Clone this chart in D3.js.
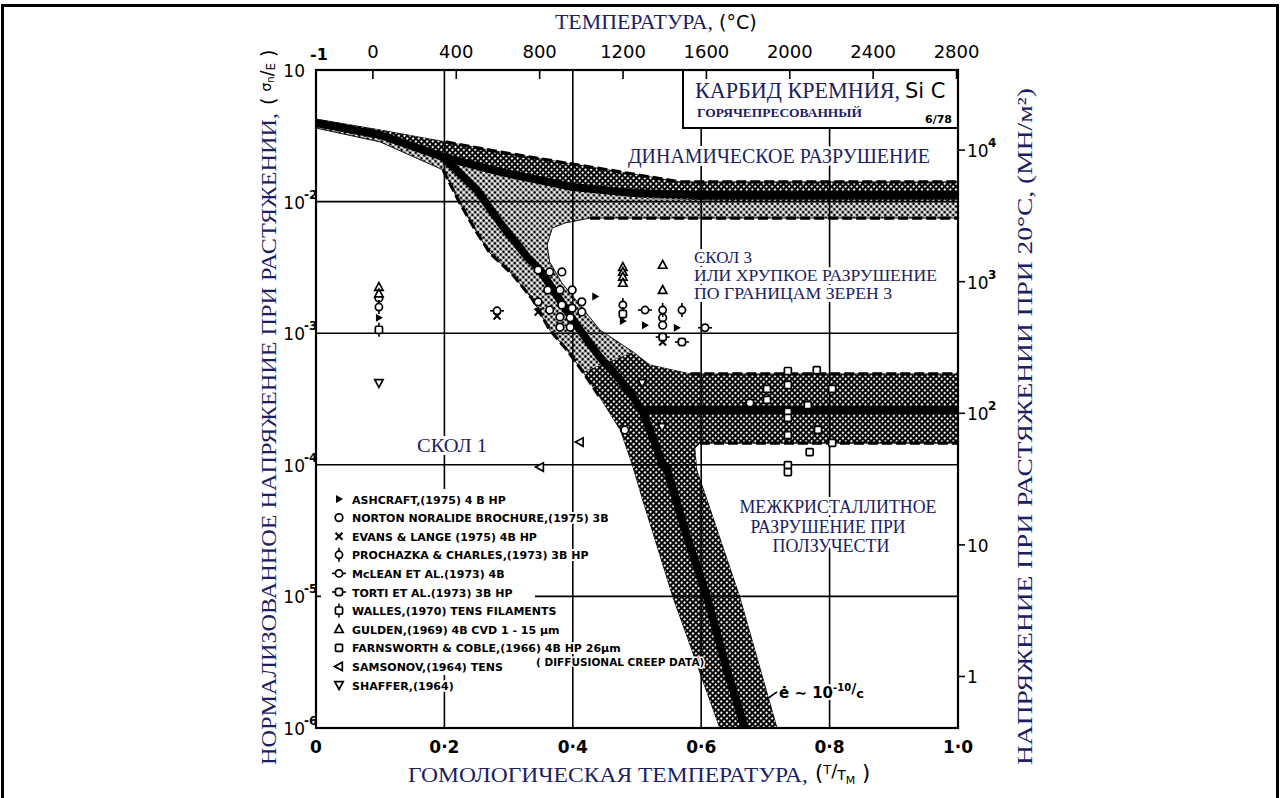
<!DOCTYPE html>
<html>
<head>
<meta charset="utf-8">
<script src="https://cdn.jsdelivr.net/npm/d3@7"></script>
<style>
    body{margin:0;background:#fff;}
    svg{display:block;}
    .ru{font-family:"Liberation Serif","DejaVu Serif",serif;fill:#1b2160;}
    .lt{font-family:"DejaVu Sans",sans-serif;fill:#000;}
    .halo{paint-order:stroke;stroke:#fff;stroke-linejoin:round;}
</style>
</head>
<body>
<div id="chart"></div>
<script>
// melting point (K) and modulus (MN/m2) used by the top and right axes
const meltK = 3080;
const modulusE = 4.06e5;

const homTicks = [0, 0.2, 0.4, 0.6, 0.8, 1.0];
const homLabels = ['0', '0·2', '0·4', '0·6', '0·8', '1·0'];
const tempTicks = [0, 400, 800, 1200, 1600, 2000, 2400, 2800];
const stressExp = [-1, -2, -3, -4, -5, -6];
const gridStress = [1e-2, 1e-3, 1e-4, 1e-5];
const mpaTicks = [1e4, 1e3, 1e2, 10, 1];
const mpaLabels = [['10', '4'], ['10', '3'], ['10', '2'], ['10', ''], ['1', '']];

// field boundaries, [T/TM, sigma_n/E]
const fieldOutline = [
    [0, 0.0424], [0.100, 0.0350], [0.202, 0.0284], [0.287, 0.0238], [0.380, 0.0200], [0.474, 0.0168],
    [0.567, 0.0141], [0.629, 0.0141], [1, 0.0141],
    [1, 0.00750], [0.754, 0.00750], [0.505, 0.00750], [0.427, 0.00750], [0.388, 0.00688], [0.368, 0.00630],
    [0.360, 0.00468], [0.364, 0.00348], [0.383, 0.00241], [0.411, 0.00164], [0.442, 0.00106], [0.494, 7.20e-4],
    [0.520, 5.73e-4], [0.583, 4.90e-4], [0.629, 4.90e-4], [1, 4.90e-4],
    [1, 1.46e-4], [0.754, 1.46e-4], [0.598, 1.46e-4], [0.590, 1.34e-4], [0.593, 9.13e-5], [0.609, 5.40e-5],
    [0.660, 9.89e-6], [0.718, 1e-6],
    [0.629, 1e-6], [0.556, 9.89e-6], [0.509, 5.40e-5], [0.492, 1.03e-4], [0.474, 1.84e-4], [0.442, 3.27e-4],
    [0.416, 5.07e-4], [0.391, 7.45e-4], [0.364, 0.00106], [0.338, 0.00179], [0.307, 0.00277], [0.271, 0.00407],
    [0.251, 0.00577], [0.224, 0.00976], [0.198, 0.0174], [0.100, 0.0284], [0, 0.0362]
];
const dynamicDark = [
    [0, 0.0424], [0.100, 0.0350], [0.202, 0.0284], [0.287, 0.0238], [0.380, 0.0200], [0.474, 0.0168],
    [0.567, 0.0141], [1, 0.0141], [1, 0.0101], [0.629, 0.0101], [0.505, 0.0107], [0.400, 0.0129],
    [0.287, 0.0159], [0.202, 0.0207], [0.100, 0.0304], [0, 0.0369]
];
const lowerDark = [
    [0.416, 5.07e-4], [0.442, 3.27e-4], [0.474, 1.84e-4], [0.492, 1.03e-4], [0.509, 5.40e-5], [0.556, 9.89e-6],
    [0.629, 1e-6], [0.718, 1e-6], [0.660, 9.89e-6], [0.609, 5.40e-5], [0.593, 9.13e-5], [0.590, 1.34e-4],
    [0.598, 1.46e-4], [1, 1.46e-4], [1, 4.90e-4], [0.583, 4.90e-4], [0.520, 5.73e-4], [0.494, 7.20e-4]
];
const coreDynamic = [[0, 0.0396], [0.100, 0.0321], [0.198, 0.0218], [0.287, 0.0168], [0.400, 0.0129], [0.494, 0.0116], [0.598, 0.0112], [1, 0.0112]];
const coreCleavage = [
    [0.198, 0.0218], [0.251, 0.0122], [0.287, 0.00688], [0.329, 0.00379], [0.349, 0.00302], [0.385, 0.00164],
    [0.411, 0.00106], [0.442, 6.59e-4], [0.474, 4.41e-4], [0.494, 3.27e-4], [0.509, 2.52e-4], [0.525, 1.60e-4],
    [0.539, 1.03e-4], [0.547, 9.13e-5], [0.578, 2.83e-5], [0.609, 9.89e-6], [0.640, 2.76e-6], [0.668, 1e-6]
];
const coreCreep = [[0.509, 2.61e-4], [1, 2.61e-4]];
const edgeTop = [[0.202, 0.0284], [0.287, 0.0238], [0.380, 0.0200], [0.474, 0.0168], [0.567, 0.0141], [1, 0.0141]];
const edgeDynBottom = [[0.427, 0.00750], [1, 0.00750]];
const edgeCleavLeft = [[0.198, 0.0174], [0.224, 0.00976], [0.251, 0.00577], [0.271, 0.00407], [0.307, 0.00277], [0.338, 0.00179], [0.364, 0.00106], [0.391, 7.45e-4], [0.416, 5.07e-4], [0.442, 3.27e-4]];
const edgeCreepTop = [[0.583, 4.90e-4], [1, 4.90e-4]];
const edgeCreepBottom = [[0.598, 1.46e-4], [1, 1.46e-4]];

// data points, [T/TM, sigma_n/E]
const ptsAshcraft = [[0.098, 0.00131], [0.435, 0.00190], [0.478, 0.00124], [0.5125, 0.00115], [0.562, 0.00110]];
const ptsNorton = [
    [0.098, 0.00185], [0.346, 0.00302], [0.364, 0.00292], [0.383, 0.00292], [0.361, 0.00213], [0.380, 0.00213],
    [0.399, 0.00213], [0.346, 0.00173], [0.364, 0.00150], [0.383, 0.00164], [0.399, 0.00155], [0.414, 0.00173],
    [0.380, 0.00133], [0.396, 0.00131], [0.414, 0.00145], [0.380, 0.00111], [0.396, 0.00111],
    [0.540, 0.00131], [0.540, 0.00115], [0.481, 1.84e-4]
];
const ptsEvans = [[0.282, 0.00135], [0.346, 0.00145], [0.540, 8.57e-4]];
const ptsProchazka = [[0.098, 0.00158], [0.478, 0.00164], [0.540, 0.00150], [0.570, 0.00150]];
const ptsMclean = [[0.282, 0.00148], [0.5125, 0.00150], [0.606, 0.00110]];
const ptsTorti = [[0.540, 9.35e-4], [0.570, 8.57e-4], [0.676, 2.95e-4]];
const ptsWalles = [[0.098, 0.00106], [0.478, 0.00140]];
const ptsGulden = [[0.098, 0.00224], [0.098, 0.00200], [0.478, 0.00318], [0.478, 0.00292], [0.478, 0.00268], [0.478, 0.00241], [0.540, 0.00330], [0.540, 0.00213]];
const ptsFarnsworth = [
    [0.735, 5.16e-4], [0.780, 5.25e-4], [0.7025, 3.77e-4], [0.735, 4.04e-4], [0.804, 3.77e-4], [0.7025, 3.11e-4],
    [0.735, 2.52e-4], [0.735, 2.27e-4], [0.766, 2.84e-4], [0.735, 1.68e-4], [0.782, 1.84e-4], [0.804, 1.47e-4],
    [0.769, 1.25e-4], [0.735, 9.95e-5], [0.735, 8.81e-5]
];
const ptsSamsonov = [[0.411, 1.49e-4], [0.349, 9.62e-5]];
const ptsShaffer = [[0.098, 4.19e-4], [0.508, 4.19e-4], [0.539, 1.94e-4]];

const legendText = [
    'ASHCRAFT,(1975) 4 B HP',
    'NORTON NORALIDE BROCHURE,(1975) 3B',
    'EVANS & LANGE (1975) 4B HP',
    'PROCHAZKA & CHARLES,(1973) 3B HP',
    'McLEAN ET AL.(1973) 4B',
    'TORTI ET AL.(1973) 3B HP',
    'WALLES,(1970) TENS FILAMENTS',
    'GULDEN,(1969) 4B CVD 1 - 15 µm',
    'FARNSWORTH & COBLE,(1966) 4B HP 26µm',
    'SAMSONOV,(1964) TENS',
    'SHAFFER,(1964)'
];
const legendSym = ['tr', 'o', 'x', 'phi', 'oh', 'sh', 'wl', 'tu', 'sq', 'tl', 'td'];

let x = d3.scaleLinear().domain([0, 1]).range([316, 958]);
let y = d3.scaleLog().domain([1e-6, 1e-1]).range([728, 70]);
let xt = d3.scaleLinear().domain([-273, meltK - 273]).range([316, 958]);
let yr = d3.scaleLog().domain([1e-6 * modulusE, 1e-1 * modulusE]).range([728, 70]);
let line = d3.line().x(d => x(d[0])).y(d => y(d[1]));

let svg = d3.select('#chart').append('svg').attr('width', 1284).attr('height', 798);
svg.append('rect').attr('width', 1284).attr('height', 798).attr('fill', '#fff');
svg.append('rect').attr('x', 2.5).attr('y', 5.5).attr('width', 1275).attr('height', 820)
    .attr('fill', 'none').attr('stroke', '#000').attr('stroke-width', 3);

let defs = svg.append('defs');
let pl = defs.append('pattern').attr('id', 'dotLight').attr('width', 4).attr('height', 4)
    .attr('patternUnits', 'userSpaceOnUse').attr('patternTransform', 'rotate(45)');
pl.append('rect').attr('width', 4).attr('height', 4).attr('fill', '#fff');
pl.append('circle').attr('cx', 2).attr('cy', 2).attr('r', 1.55).attr('fill', '#000');
let pd = defs.append('pattern').attr('id', 'dotDark').attr('width', 4).attr('height', 4)
    .attr('patternUnits', 'userSpaceOnUse').attr('patternTransform', 'rotate(45)');
pd.append('rect').attr('width', 4).attr('height', 4).attr('fill', '#000');
pd.append('circle').attr('cx', 2).attr('cy', 2).attr('r', 1.15).attr('fill', '#fff');
defs.append('clipPath').attr('id', 'plotClip').append('rect')
    .attr('x', 316).attr('y', 70).attr('width', 642).attr('height', 658);

// fields
let fg = svg.append('g').attr('clip-path', 'url(#plotClip)');
fg.append('path').attr('d', line(fieldOutline) + 'Z').attr('fill', 'url(#dotLight)')
    .attr('stroke', '#111').attr('stroke-width', 1);
fg.append('path').attr('d', line(dynamicDark) + 'Z').attr('fill', 'url(#dotDark)');
fg.append('path').attr('d', line(lowerDark) + 'Z').attr('fill', 'url(#dotDark)');
[coreDynamic, coreCleavage, coreCreep].forEach(c => {
    fg.append('path').attr('d', line(c)).attr('fill', 'none').attr('stroke', '#000')
        .attr('stroke-width', 8).attr('stroke-linejoin', 'round');
});
[edgeTop, edgeDynBottom, edgeCleavLeft, edgeCreepTop, edgeCreepBottom].forEach(c => {
    fg.append('path').attr('d', line(c)).attr('fill', 'none').attr('stroke', '#000')
        .attr('stroke-width', 3.2).attr('stroke-dasharray', '10 4');
});

// grid
let grid = svg.append('g').attr('stroke', '#000').attr('stroke-width', 1.6);
homTicks.slice(1, -1).forEach(v => {
    grid.append('line').attr('x1', x(v)).attr('x2', x(v)).attr('y1', 70).attr('y2', 728);
});
gridStress.forEach(v => {
    grid.append('line').attr('x1', 316).attr('x2', 958).attr('y1', y(v)).attr('y2', y(v));
});

// legend
svg.append('rect').attr('x', 321).attr('y', 489).attr('width', 214).attr('height', 186).attr('fill', '#fff');
let lg = svg.append('g');
legendText.forEach((t, i) => {
    let yy = 499 + i * 18.6;
    let m = lg.append('g').attr('transform', `translate(339,${yy})`);
    drawSym(m, legendSym[i]);
    lg.append('text').attr('class', 'lt halo').attr('x', 352).attr('y', yy + 4.5)
        .attr('font-size', 11).attr('font-weight', 'bold').attr('stroke-width', 4).text(t);
});
lg.append('text').attr('class', 'lt halo').attr('x', 536).attr('y', 666)
    .attr('font-size', 10.5).attr('font-weight', 'bold').attr('stroke-width', 3).text('( DIFFUSIONAL CREEP DATA)');

// data markers
let series = [
    [ptsAshcraft, 'tr'], [ptsNorton, 'o'], [ptsEvans, 'x'], [ptsProchazka, 'phi'], [ptsMclean, 'oh'],
    [ptsTorti, 'sh'], [ptsWalles, 'wl'], [ptsGulden, 'tu'], [ptsFarnsworth, 'sq'], [ptsSamsonov, 'tl'], [ptsShaffer, 'td']
];
let mg = svg.append('g');
series.forEach(s => {
    s[0].forEach(p => {
        drawSym(mg.append('g').attr('transform', `translate(${x(p[0])},${y(p[1])})`), s[1]);
    });
});

function drawSym(g, kind) {
    let outline = e => e.attr('fill', '#fff').attr('stroke', '#000').attr('stroke-width', 1.7);
    if (kind === 'tr') {
        g.append('path').attr('d', 'M-3,-4L4,0L-3,4Z').attr('fill', '#000');
    } else if (kind === 'o') {
        outline(g.append('circle').attr('r', 3.8));
    } else if (kind === 'x') {
        g.append('path').attr('d', 'M-3.5,-3.5L3.5,3.5M3.5,-3.5L-3.5,3.5').attr('stroke', '#000').attr('stroke-width', 2);
    } else if (kind === 'phi') {
        g.append('line').attr('y1', -7).attr('y2', 7).attr('stroke', '#000').attr('stroke-width', 1.6);
        outline(g.append('circle').attr('r', 3.6));
    } else if (kind === 'oh') {
        g.append('line').attr('x1', -7).attr('x2', 7).attr('stroke', '#000').attr('stroke-width', 1.6);
        outline(g.append('circle').attr('r', 3.6));
    } else if (kind === 'sh') {
        g.append('line').attr('x1', -7).attr('x2', 7).attr('stroke', '#000').attr('stroke-width', 1.6);
        outline(g.append('rect').attr('x', -3.6).attr('y', -3.6).attr('width', 7.2).attr('height', 7.2).attr('rx', 2.5));
    } else if (kind === 'wl') {
        g.append('line').attr('y1', -7).attr('y2', 7).attr('stroke', '#000').attr('stroke-width', 1.6);
        outline(g.append('rect').attr('x', -3.6).attr('y', -3.6).attr('width', 7.2).attr('height', 7.2).attr('rx', 1.5));
    } else if (kind === 'tu') {
        outline(g.append('path').attr('d', 'M0,-4.5L4.2,3.3L-4.2,3.3Z'));
    } else if (kind === 'td') {
        outline(g.append('path').attr('d', 'M0,4.5L4.2,-3.3L-4.2,-3.3Z'));
    } else if (kind === 'tl') {
        outline(g.append('path').attr('d', 'M-4.5,0L3.3,-4.2L3.3,4.2Z'));
    } else if (kind === 'sq') {
        outline(g.append('rect').attr('x', -3.5).attr('y', -3.5).attr('width', 7).attr('height', 7).attr('rx', 1));
    }
}

// region labels
let rl = svg.append('g');
function ruText(xx, yy, size, t, len, anchor) {
    let e = rl.append('text').attr('class', 'ru halo').attr('x', xx).attr('y', yy).attr('font-size', size)
        .attr('stroke-width', 6).attr('text-anchor', anchor || 'start').text(t);
    if (len) e.attr('textLength', len).attr('lengthAdjust', 'spacingAndGlyphs');
    return e;
}
ruText(628, 163, 20, 'ДИНАМИЧЕСКОЕ РАЗРУШЕНИЕ', 302);
ruText(694, 263, 17, 'СКОЛ 3', 58);
ruText(694, 281, 17, 'ИЛИ ХРУПКОЕ РАЗРУШЕНИЕ', 243);
ruText(694, 299, 17, 'ПО ГРАНИЦАМ ЗЕРЕН 3', 198);
ruText(417, 452, 19, 'СКОЛ  1', 70);
ruText(838, 513, 18, 'МЕЖКРИСТАЛЛИТНОЕ', 197, 'middle');
ruText(828, 533, 18, 'РАЗРУШЕНИЕ ПРИ', 155, 'middle');
ruText(831, 552, 18, 'ПОЛЗУЧЕСТИ', 117, 'middle');

// strain rate note
let note = svg.append('text').attr('class', 'lt halo').attr('x', 779).attr('y', 698)
    .attr('font-size', 15).attr('font-weight', 'bold').attr('stroke-width', 4);
note.append('tspan').text('ė ∼ 10');
note.append('tspan').attr('font-size', 10).attr('dy', -7).text('-10');
note.append('tspan').attr('font-size', 14).attr('dy', 2).text('/');
note.append('tspan').attr('font-size', 13).attr('dy', 5).text('c');
svg.append('path').attr('d', 'M777,692 C770,696 766,701 756,707').attr('fill', 'none')
    .attr('stroke', '#000').attr('stroke-width', 1.6);

// title box
svg.append('rect').attr('x', 683).attr('y', 70).attr('width', 275).attr('height', 58)
    .attr('fill', '#fff').attr('stroke', '#000').attr('stroke-width', 2);
svg.append('text').attr('class', 'ru').attr('x', 695).attr('y', 98).attr('font-size', 23)
    .attr('textLength', 205).attr('lengthAdjust', 'spacingAndGlyphs').text('КАРБИД КРЕМНИЯ,');
svg.append('text').attr('class', 'lt').attr('x', 905).attr('y', 98).attr('font-size', 21).text('Si C');
svg.append('text').attr('class', 'ru').attr('x', 697).attr('y', 117).attr('font-size', 13)
    .attr('font-weight', 'bold').attr('textLength', 165).attr('lengthAdjust', 'spacingAndGlyphs').text('ГОРЯЧЕПРЕСОВАННЫЙ');
svg.append('text').attr('class', 'lt').attr('x', 925).attr('y', 123).attr('font-size', 11).attr('font-weight', 'bold').text('6/78');

// axes
let ax = svg.append('g');
tempTicks.forEach(t => {
    ax.append('line').attr('x1', xt(t)).attr('x2', xt(t)).attr('y1', 70).attr('y2', 79)
        .attr('stroke', '#000').attr('stroke-width', 1.6);
    ax.append('text').attr('class', 'lt').attr('x', xt(t)).attr('y', 58).attr('text-anchor', 'middle')
        .attr('font-size', 18).text(t);
});
homTicks.forEach((v, i) => {
    ax.append('text').attr('class', 'lt').attr('x', x(v)).attr('y', 753).attr('text-anchor', 'middle')
        .attr('font-size', 17).attr('font-weight', 'bold').text(homLabels[i]);
});
stressExp.forEach(e => {
    let yy = y(Math.pow(10, e));
    ax.append('text').attr('class', 'lt').attr('x', 305).attr('y', yy + 7).attr('text-anchor', 'end')
        .attr('font-size', 17).text('10');
    ax.append('text').attr('class', 'lt').attr('x', e === -1 ? 310 : 304).attr('y', e === -1 ? 60 : yy - 3)
        .attr('font-size', e === -1 ? 16 : 12).attr('font-weight', 'bold').text(e);
});
mpaTicks.forEach((v, i) => {
    let yy = yr(v);
    ax.append('line').attr('x1', 958).attr('x2', 965).attr('y1', yy).attr('y2', yy)
        .attr('stroke', '#000').attr('stroke-width', 1.6);
    ax.append('text').attr('class', 'lt').attr('x', 967).attr('y', yy + 7).attr('font-size', 17).text(mpaLabels[i][0]);
    if (mpaLabels[i][1]) {
        ax.append('text').attr('class', 'lt').attr('x', 988).attr('y', yy - 3).attr('font-size', 12)
            .attr('font-weight', 'bold').text(mpaLabels[i][1]);
    }
});

// axis titles
svg.append('text').attr('class', 'ru').attr('x', 555).attr('y', 29).attr('font-size', 22)
    .attr('textLength', 158).attr('lengthAdjust', 'spacingAndGlyphs').text('ТЕМПЕРАТУРА,');
svg.append('text').attr('class', 'lt').attr('x', 719).attr('y', 29).attr('font-size', 19).text('(°C)');

svg.append('text').attr('class', 'ru').attr('x', 408).attr('y', 782).attr('font-size', 22)
    .attr('textLength', 400).attr('lengthAdjust', 'spacingAndGlyphs').text('ГОМОЛОГИЧЕСКАЯ  ТЕМПЕРАТУРА,');
let bt = svg.append('text').attr('class', 'lt').attr('x', 815).attr('y', 780).attr('font-size', 21);
bt.append('tspan').text('(');
bt.append('tspan').attr('font-size', 13).attr('dy', -6).text('T');
bt.append('tspan').attr('font-size', 18).attr('dy', 3).text('/');
bt.append('tspan').attr('font-size', 14).attr('dy', 3).text('T');
bt.append('tspan').attr('font-size', 11).attr('dy', 4).text('M');
bt.append('tspan').attr('font-size', 21).attr('dy', -4).text(' )');

let lt = svg.append('g').attr('transform', 'translate(276,765) rotate(-90)');
lt.append('text').attr('class', 'ru').attr('x', 0).attr('y', 0).attr('font-size', 22)
    .attr('textLength', 652).attr('lengthAdjust', 'spacingAndGlyphs')
    .text('НОРМАЛИЗОВАННОЕ НАПРЯЖЕНИЕ ПРИ РАСТЯЖЕНИИ,');
let ls = lt.append('text').attr('class', 'lt').attr('x', 660).attr('y', -1).attr('font-size', 19);
ls.append('tspan').text('( ');
ls.append('tspan').attr('font-size', 14).attr('dy', -4).text('σ');
ls.append('tspan').attr('font-size', 10).attr('dy', 3).text('n');
ls.append('tspan').attr('font-size', 17).attr('dy', -1).text('/');
ls.append('tspan').attr('font-size', 12).attr('dy', 2).text('E');
ls.append('tspan').attr('font-size', 19).attr('dy', 0).text(' )');

let rt = svg.append('g').attr('transform', 'translate(1032,765) rotate(-90)');
rt.append('text').attr('class', 'ru').attr('x', 0).attr('y', 0).attr('font-size', 22)
    .attr('textLength', 677).attr('lengthAdjust', 'spacingAndGlyphs')
    .text('НАПРЯЖЕНИЕ ПРИ РАСТЯЖЕНИИ ПРИ 20°C, (МН/м²)');

// frame
svg.append('rect').attr('x', 316).attr('y', 70).attr('width', 642).attr('height', 658)
    .attr('fill', 'none').attr('stroke', '#000').attr('stroke-width', 2.2);
</script>
</body>
</html>
